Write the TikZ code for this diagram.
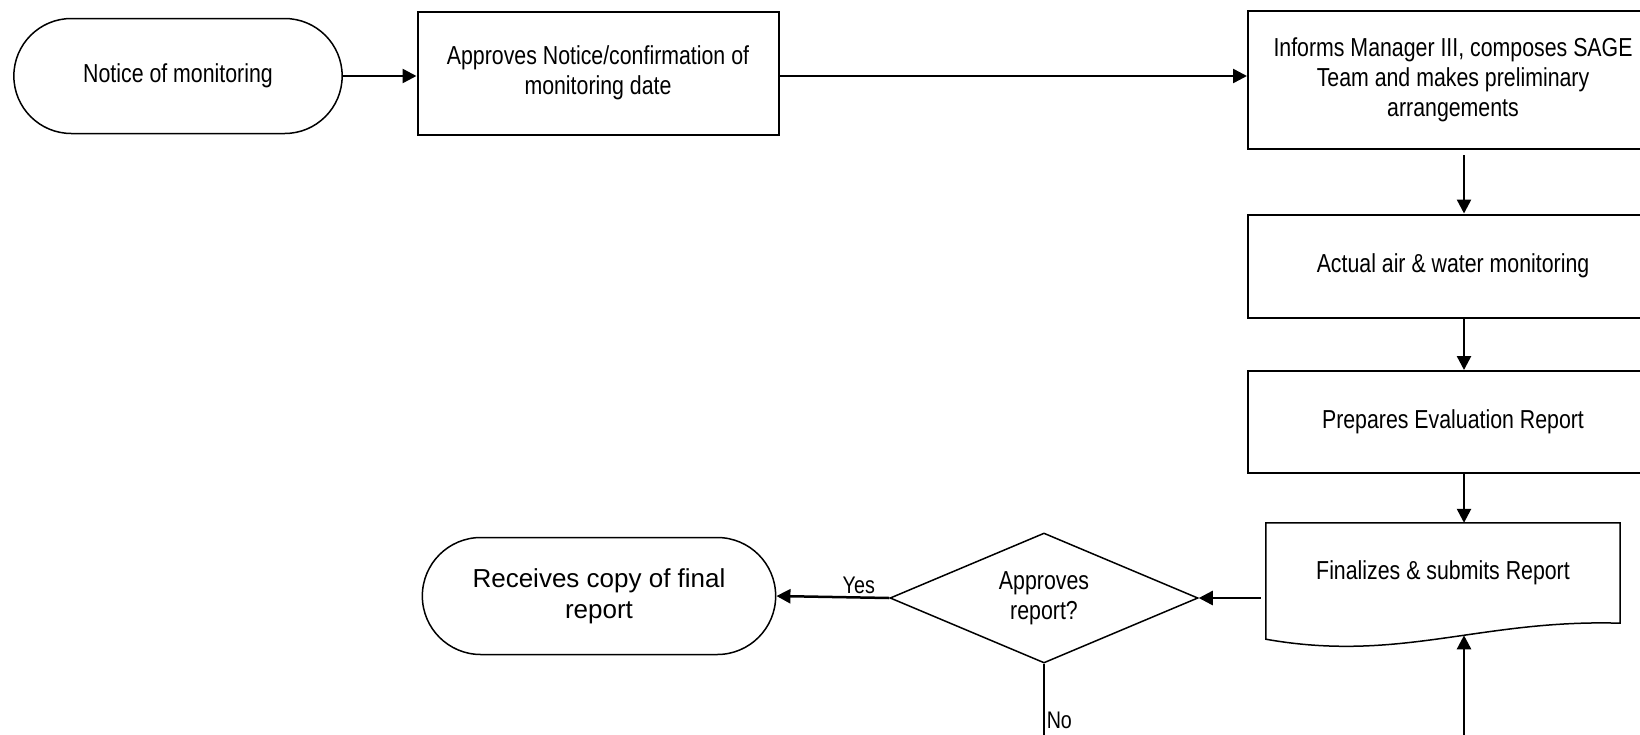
\documentclass[tikz,border=0pt]{standalone}
\usepackage{fontspec}
\setmainfont{Liberation Sans}[FakeStretch=0.82]
\newfontfamily\widesans{Liberation Sans}
\usepackage{tikz}
\usetikzlibrary{positioning, arrows.meta, shapes.geometric, shapes.misc, calc}

\begin{document}
\begin{tikzpicture}[
    x=1pt, y=-1pt,
    >={Triangle[width=14pt,length=14pt]},
    every node/.style={font=\fontsize{26}{30}\selectfont},
    process/.style={rectangle, draw=black, line width=2pt, align=center, minimum width=410pt},
    terminal/.style={rounded rectangle, draw=black, line width=1.5pt, align=center},
    decision/.style={diamond, draw=black, line width=1.5pt, align=center, aspect=2.37, inner sep=0pt, minimum width=308pt, minimum height=130pt},
    flow/.style={->, line width=2.5pt},
    tag/.style={font=\fontsize{24}{28}\selectfont, inner sep=2pt}
]
\path[use as bounding box, clip] (0,0) rectangle (1640,734);

% Nodes
\node[terminal, minimum width=335pt, minimum height=115pt] (notice) at (178,76) {Notice of monitoring};
\node[process, minimum width=361pt, minimum height=123pt] (approve) at (598,73) {Approves Notice/confirmation of\\monitoring date};
\node[process, minimum height=138pt] (inform) at (1453,80) {Informs Manager III, composes SAGE\\Team and makes preliminary\\arrangements};
\node[process, minimum height=103pt] (actual) at (1453,266) {Actual air \& water monitoring};
\node[process, minimum height=102pt] (prepare) at (1453,422) {Prepares Evaluation Report};
\node[minimum width=354pt, minimum height=100pt] (final) at (1443,573) {Finalizes \& submits Report};
\node[decision] (check) at (1044,598) {Approves\\report?};
\node[terminal, minimum width=360pt, minimum height=117pt, font=\widesans\fontsize{26}{31}\selectfont] (receive) at (599,596) {Receives copy of final\\report};

% document outline of the report box
\draw[line width=1.5pt] ($(final.south west)+(0,16)$) .. controls (1400,663) and (1480,619) .. (final.south east) coordinate[pos=0.57] (final-b)
    -- (final.north east) -- (final.north west) -- cycle;

\coordinate (col) at (1464,0);
\coordinate (nobot) at (1044,745);
\coordinate (retbot) at (1464,745);

% Arrows
\draw[flow] (notice.east) -- (notice.east -| approve.west);
\draw[flow] (approve.east |- notice.east) -- (notice.east -| inform.west);
\draw[flow, shorten <=5pt] (inform.south -| col) -- (actual.north -| col);
\draw[flow] (actual.south -| col) -- (prepare.north -| col);
\draw[flow] (prepare.south -| col) -- (final.north -| col);
\draw[flow, shorten <=5pt] (final.west |- check) -- (check.east);
\draw[flow] (check.west) -- node[tag, above, pos=0.27] {Yes} (receive.east);
\draw[line width=1.5pt] (check.south) -- node[tag, right, pos=0.7] {No} (nobot);
\draw[flow] (retbot) -- (retbot |- final-b);

\end{tikzpicture}
\end{document}
